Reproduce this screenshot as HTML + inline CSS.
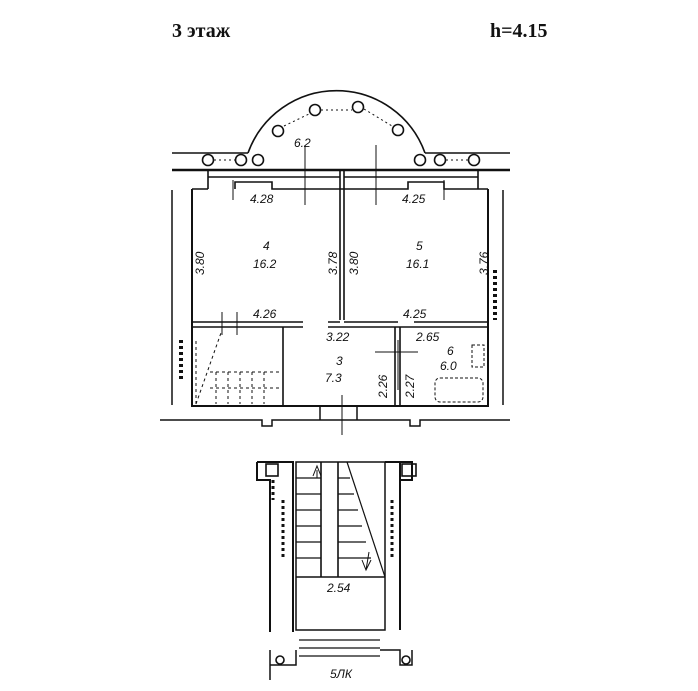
<!DOCTYPE html>
<html><head><meta charset="utf-8"><style>
body{margin:0;background:#fff}
svg{display:block}
text{font-family:"Liberation Sans",sans-serif;fill:#111}
.d{font-size:12px;font-style:italic}
</style></head><body>
<svg width="698" height="691" viewBox="0 0 698 691" xmlns="http://www.w3.org/2000/svg">
<g fill="none" stroke="#111" stroke-width="1.6">
<text x="172" y="37" style="font-family:'Liberation Serif',serif;font-size:20px;font-weight:bold" stroke="none">3 этаж</text>
<text x="490" y="37" style="font-family:'Liberation Serif',serif;font-size:20px;font-weight:bold" stroke="none">h=4.15</text>
<!-- top walls -->
<path d="M172 153 H248 M425 153 H510"/>
<path d="M248 153 A94 94 0 0 1 425 153"/>
<path d="M172 170 H510" stroke-width="2.5"/>
<path d="M192 189 H208 M235 189 V182 H272 V189 H408 V182 H444 V189 H488"/>
<path d="M208 170 V189 M478 170 V189 M340 170 V320 M344 170 V320"/>
<path d="M208 177 H340 M344 177 H478"/>
<!-- columns -->
<g fill="#fff">
<circle cx="208" cy="160" r="5.5"/><circle cx="241" cy="160" r="5.5"/><circle cx="258" cy="160" r="5.5"/>
<circle cx="278" cy="131" r="5.5"/><circle cx="315" cy="110" r="5.5"/><circle cx="358" cy="107" r="5.5"/>
<circle cx="398" cy="130" r="5.5"/><circle cx="420" cy="160" r="5.5"/><circle cx="440" cy="160" r="5.5"/><circle cx="474" cy="160" r="5.5"/>
</g>
<path d="M214 160 H235 M284 126 L309 114 M321 110 H352 M364 109 L392 126 M446 160 H468" stroke-dasharray="2 3" stroke-width="1"/>
<!-- room outline -->
<path d="M192 189 V406 H488 V189" stroke-width="2"/>
<path d="M172 190 V405 M503 190 V405" stroke-width="1.5"/>
<!-- middle floor walls -->
<path d="M192 322 H303 M328 322 H340 M344 322 H398 M414 322 H488 M192 327 H303 M328 327 H488" stroke-width="1.5"/>
<path d="M283 327 V406 M395 327 V406 M400 327 V406"/>
<!-- stair hatch left -->
<path d="M196 404 L222 330 M196 404 V340" stroke-dasharray="3 3" stroke-width="1"/>
<path d="M210 372 H280 M210 388 H280 M216 372 V404 M228 372 V404 M240 372 V404 M252 372 V404 M264 372 V404" stroke-dasharray="3 3" stroke-width="1"/>
<!-- bath -->
<rect x="435" y="378" width="48" height="24" rx="5" stroke-dasharray="3 2" stroke-width="1"/>
<rect x="472" y="345" width="12" height="22" stroke-dasharray="3 2" stroke-width="1"/>
<!-- dashed ticks -->
<path d="M222 312 V335 M237 312 V335 M342 395 V435 M305 145 V205 M376 145 V205 M444 180 V200 M233 180 V200 M398 340 V390 M375 352 H418" stroke-width="1"/>
<!-- side hatch -->
<path d="M181 340 V380 M495 270 V320" stroke-dasharray="3 3" stroke-width="4"/>
<!-- bottom corridor -->
<path d="M160 420 H262 V426 H272 V420 H410 V426 H420 V420 H510" stroke-width="1.5"/>
<path d="M320 406 V420 M357 406 V420" stroke-width="1.5"/>
<!-- stair block -->
<path d="M257 462 H293 V632 M257 462 V480 H270 V632" stroke-width="2"/>
<rect x="266" y="464" width="12" height="12"/>
<path d="M296 462 H385 V630 H296 Z" stroke-width="1.5"/>
<path d="M385 462 H400 V630 M400 480 H412 V462 H400" stroke-width="2"/>
<rect x="402" y="464" width="14" height="12"/>
<path d="M296 577 H385"/>
<path d="M321 462 V577 M338 462 V577"/>
<path d="M296 478 H321 M296 494 H321 M296 510 H321 M296 526 H321 M296 542 H321 M296 558 H321 M338 478 H350 M338 494 H354 M338 510 H358 M338 526 H362 M338 542 H366 M338 558 H371 M347 462 L385 577" stroke-width="1.2"/>
<path d="M317 470 L317 478 M313 476 L317 466 L321 476 M366 570 L369 552 M362 560 L366 570 L371 560" stroke-width="1"/>
<path d="M299 640 H380 M299 648 H380 M299 656 H380" stroke-width="1.2"/>
<path d="M270 650 V665 H296 V650 M270 665 V680 M380 650 H400 V665 H412 V650" stroke-width="1.5"/>
<circle cx="280" cy="660" r="4"/><circle cx="406" cy="660" r="4"/>
<path d="M273 480 V500 M283 500 V560 M392 500 V560" stroke-dasharray="3 3" stroke-width="3"/>
</g>
<g class="d">
<text x="250" y="203">4.28</text>
<text x="402" y="203">4.25</text>
<text x="294" y="147">6.2</text>
<text x="263" y="250">4</text><text x="253" y="268">16.2</text>
<text x="416" y="250">5</text><text x="406" y="268">16.1</text>
<text x="253" y="318">4.26</text>
<text x="403" y="318">4.25</text>
<text x="326" y="341">3.22</text>
<text x="416" y="341">2.65</text>
<text x="336" y="365">3</text><text x="325" y="382">7.3</text>
<text x="447" y="355">6</text><text x="440" y="370">6.0</text>
<text x="327" y="592">2.54</text>
<text x="330" y="678">5ЛК</text>
<text transform="translate(204,275) rotate(-90)">3.80</text>
<text transform="translate(337,275) rotate(-90)">3.78</text>
<text transform="translate(358,275) rotate(-90)">3.80</text>
<text transform="translate(488,275) rotate(-90)">3.76</text>
<text transform="translate(387,398) rotate(-90)">2.26</text>
<text transform="translate(414,398) rotate(-90)">2.27</text>
</g>
</svg>
</body></html>
